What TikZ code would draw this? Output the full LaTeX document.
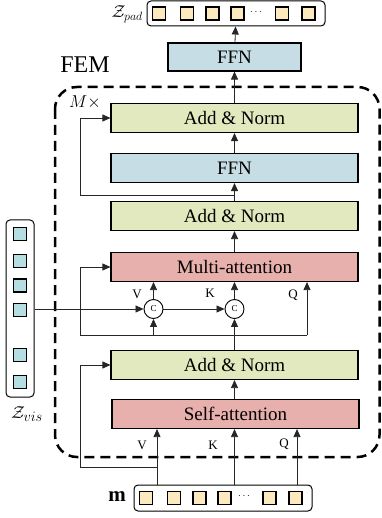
\documentclass[tikz,border=0pt]{standalone}
\usepackage{fontspec}
\setmainfont{Liberation Serif}
\usetikzlibrary{arrows.meta}
\definecolor{anc}{RGB}{227,233,190}
\definecolor{ffnc}{RGB}{198,221,229}
\definecolor{attc}{RGB}{232,176,172}
\definecolor{tokc}{RGB}{252,234,190}
\definecolor{visc}{RGB}{180,222,226}
\tikzset{
  blk/.style={draw=black, line width=1.1pt, minimum width=247pt, minimum height=29pt, inner sep=0pt, font=\fontsize{19}{22}\selectfont},
  anbox/.style={blk, fill=anc},
  ffnbox/.style={blk, fill=ffnc},
  attbox/.style={blk, fill=attc},
  ln/.style={line width=0.8pt, draw=black!85},
  arr/.style={ln, -{Triangle[length=8pt,width=7pt]}},
  bar/.style={draw=black, line width=1pt, rounded corners=4pt, inner sep=0pt},
  tok/.style={draw=black, line width=1.2pt, fill=tokc, minimum size=13pt, inner sep=0pt},
  vtok/.style={draw=black, line width=1.2pt, fill=visc, minimum size=13pt, inner sep=0pt},
  cat/.style={circle, draw=black, line width=0.9pt, fill=white, minimum size=19pt, inner sep=0pt, font=\fontsize{9}{9}\selectfont},
  lab/.style={inner sep=0pt, font=\fontsize{13}{13}\selectfont}
}
\begin{document}
\begin{tikzpicture}[x=1pt,y=-1pt]
\useasboundingbox (0,0) rectangle (381,518);
% dashed FEM frame
\draw[line width=2.5pt, dash pattern=on 10pt off 6pt, rounded corners=22pt] (55,87) rectangle (379.5,457);
\node[inner sep=0pt, font=\fontsize{24}{24}\selectfont] (fem) at (85,65) {FEM};
\node[inner sep=0pt, font=\fontsize{17}{17}\selectfont] (mx) at (85,102) {$M\times$};
% blocks
\node[ffnbox, minimum width=133pt, minimum height=28pt] (ffnt) at (234.5,57) {FFN};
\node[anbox] (an1) at (234.5,118) {Add \& Norm};
\node[ffnbox] (ffn2) at (234.5,168) {FFN};
\node[anbox] (an2) at (234.5,216) {Add \& Norm};
\node[attbox] (ma) at (234.5,267) {Multi-attention};
\node[anbox] (an3) at (234.5,365) {Add \& Norm};
\node[attbox] (sa) at (235.5,414) {Self-attention};
\node[cat] (c1) at (153.5,309) {C};
\node[cat] (c2) at (234.5,309) {C};
% top token bar
\node[bar, minimum width=178pt, minimum height=25pt] (zpad) at (236,13.5) {};
\node[tok] (p1) at (159,13.5) {};
\node[tok] (p2) at (187,13.5) {};
\node[tok] (p3) at (212.5,13.5) {};
\node[tok] (p4) at (237.5,13.5) {};
\node[inner sep=0pt] (pd) at (256,12) {$\cdots$};
\node[tok] (p5) at (282,13.5) {};
\node[tok] (p6) at (308.5,13.5) {};
\node[anchor=east, inner sep=0pt, font=\fontsize{18}{18}\selectfont] (zpl) at (143,14.5) {$\mathcal{Z}_{pad}$};
% bottom token bar
\node[bar, minimum width=178pt, minimum height=26pt] (mbar) at (223,498) {};
\node[tok] (m1) at (146,498) {};
\node[tok] (m2) at (174,498) {};
\node[tok] (m3) at (199.5,498) {};
\node[tok] (m4) at (224.5,498) {};
\node[inner sep=0pt] (md) at (244,496.5) {$\cdots$};
\node[tok] (m5) at (269.5,498) {};
\node[tok] (m6) at (295.5,498) {};
\node[inner sep=0pt, font=\fontsize{21}{21}\selectfont] (ml) at (117,497) {$\mathbf{m}$};
% visual token bar
\node[bar, minimum width=28pt, minimum height=177pt] (zvis) at (20,308.5) {};
\node[vtok] (v1) at (20,234) {};
\node[vtok] (v2) at (20,261) {};
\node[vtok] (v3) at (20,285.5) {};
\node[vtok] (v4) at (20,310) {};
\node[vtok] (v5) at (20,355) {};
\node[vtok] (v6) at (20,382) {};
\node[inner sep=0pt, font=\fontsize{19}{19}\selectfont] (zvl) at (27,414) {$\mathcal{Z}_{vis}$};
% helper coordinates
\coordinate (xv) at (157,0);
\coordinate (xk) at (234.5,0);
\coordinate (xq) at (297,0);
\coordinate (xl) at (80,0);
\coordinate (rbv) at (157,467);
\coordinate (rb) at (80,467);
\coordinate (jl) at (80,335);
\coordinate (jq) at (307,335);
\coordinate (jt) at (234.5,195);
% input arrows
\draw[arr] (mbar.north -| xv) -- (sa.south -| xv);
\draw[arr] (mbar.north -| xk) -- (sa.south -| xk);
\draw[arr] (mbar.north -| xq) -- (sa.south -| xq);
\node[lab] (lv1) at (142,445) {V};
\node[lab] (lk1) at (213,445) {K};
\node[lab] (lq1) at (284,444) {Q};
% residual to Add&Norm 3
\draw[ln] (rbv) -- (rb);
\draw[arr] (rb) |- (an3.west);
\draw[arr] (sa.north -| xk) -- (an3.south -| xk);
% cross attention
\draw[arr] (an3) -- (c2);
\draw[ln] (jl) -- (jq);
\draw[arr] (jl) |- (ma.west);
\draw[arr] (jq) -- (ma.south -| jq);
\draw[arr] (c1.south |- jl) -- (c1.south);
\draw[arr] (zvis.east |- c1) -- (c1.west);
\draw[arr] (c1.east) -- (c2.west);
\draw[arr] (c1.north) -- (ma.south -| c1);
\draw[arr] (c2.north) -- (ma.south -| c2);
\node[lab] (lv2) at (137,294) {V};
\node[lab] (lk2) at (210,293) {K};
\node[lab] (lq2) at (293,295) {Q};
% upper stack
\draw[arr] (ma) -- (an2);
\draw[arr] (an2) -- (ffn2);
\draw[arr] (ffn2) -- (an1);
\draw[ln] (jt) -- (jt -| xl);
\draw[arr] (jt -| xl) |- (an1.west);
\draw[arr] (an1) -- (ffnt);
\draw[arr] (ffnt) -- (zpad);
\end{tikzpicture}
\end{document}
